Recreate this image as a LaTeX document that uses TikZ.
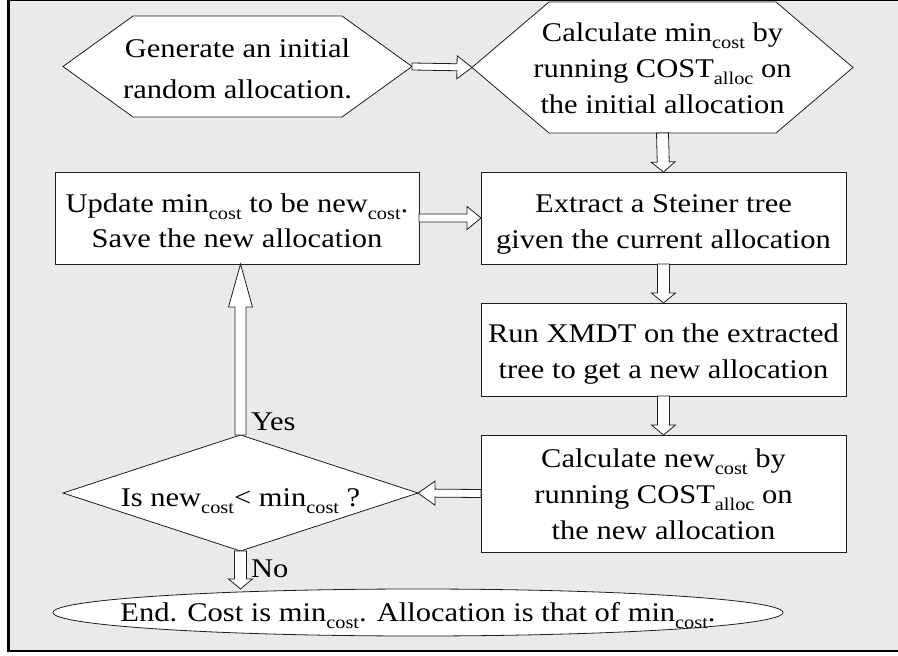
\documentclass[tikz,border=0pt]{standalone}
\usepackage{fontspec}
\setmainfont{Liberation Serif}[FakeStretch=1.13]
\usetikzlibrary{calc}

\definecolor{panel}{RGB}{234,234,234}
\definecolor{ink}{RGB}{30,30,30}

\pgfdeclarelayer{back}
\pgfdeclarelayer{shapes}
\pgfsetlayers{back,shapes,main}

% lowered, smaller index text
\newcommand\sub[1]{\raisebox{-7pt}{\fontsize{18}{18}\selectfont #1}}
% centred block of lines, moved down by #1 without changing its box
\newcommand\lines[2]{\raisebox{-#1}[\height][\depth]{\begin{tabular}{@{}c@{}}#2\end{tabular}}}

% hollow block arrow: from, to, shaft half-width, head half-width, head length
\newcommand\blockarrow[5]{%
  \coordinate (neck) at ($(#2)!#5!(#1)$);
  \filldraw[arrowline]
    ($(#1)!#3!90:(#2)$) -- ($(neck)!#3!-90:(#1)$) -- ($(neck)!#4!-90:(#1)$)
    -- (#2)
    -- ($(neck)!#4!90:(#1)$) -- ($(neck)!#3!90:(#1)$) -- ($(#1)!#3!-90:(#2)$) -- cycle;}

\tikzset{
  txt/.style={font=\fontsize{27}{36}\selectfont, inner sep=0pt, outer sep=0pt},
  area/.style 2 args={txt, minimum width=#1, minimum height=#2},
  stepbox/.style 2 args={area={#1}{#2}, draw=ink, fill=white, line width=0.8pt},
  outline/.style={draw=ink, fill=white, line width=0.8pt, line join=miter},
  arrowline/.style={draw=ink, fill=white, line width=0.8pt, line join=miter},
  tag/.style={font=\fontsize{27}{36}\selectfont, inner sep=0pt, anchor=base west},
}

\begin{document}
\begin{tikzpicture}[x=1pt, y=-1pt]
  \useasboundingbox (0,0) rectangle (898,656);

  % text-bearing nodes
  \node[area={349pt}{101pt}] (gen) at (237.5,66.5)
    {\lines{4pt}{Generate an initial\\[5pt]random allocation.}};
  \node[area={381pt}{131pt}] (cmin) at (662.5,67.5)
    {\lines{3pt}{Calculate min\sub{cost} by\\running COST\sub{alloc} on\\the initial allocation}};
  \node[stepbox={364pt}{92pt}] (upd) at (237,218)
    {\lines{5pt}{Update min\sub{cost} to be new\sub{cost}.\\[-1pt]Save the new allocation}};
  \node[stepbox={365pt}{92pt}] (ext) at (663.5,218)
    {\lines{5pt}{Extract a Steiner tree\\given the current allocation}};
  \node[stepbox={365pt}{93pt}] (run) at (663.5,349.5)
    {\lines{4pt}{Run XMDT on the extracted\\tree to get a new allocation}};
  \node[stepbox={365pt}{117pt}] (cnew) at (663.5,493.5)
    {\lines{3pt}{Calculate new\sub{cost} by\\running COST\sub{alloc} on\\the new allocation}};
  \node[area={355pt}{116pt}] (dec) at (240.5,493)
    {\lines{6pt}{Is new\sub{cost}< min\sub{cost} ?}};
  \node[area={730pt}{47pt}] (endn) at (418,612.5)
    {\lines{2pt}{End. Cost is min\sub{cost}. Allocation is that of min\sub{cost}.}};

  % outlines of the hexagons, the decision diamond and the terminal ellipse
  \begin{pgfonlayer}{shapes}
    \draw[outline] (gen.west) -- ([xshift=70pt]gen.north west) -- ([xshift=-70pt]gen.north east)
      -- (gen.east) -- ([xshift=-70pt]gen.south east) -- ([xshift=70pt]gen.south west) -- cycle;
    \draw[outline] (cmin.west) -- ([xshift=77pt]cmin.north west) -- ([xshift=-77pt]cmin.north east)
      -- (cmin.east) -- ([xshift=-77pt]cmin.south east) -- ([xshift=77pt]cmin.south west) -- cycle;
    \draw[outline] (dec.west) -- (dec.north) -- (dec.east) -- (dec.south) -- cycle;
    \draw[outline] (endn.center) ellipse [x radius=365, y radius=23.5];
  \end{pgfonlayer}

  % panel and frame
  \begin{pgfonlayer}{back}
    \fill[white] (0,0) rectangle (898,656);
    \draw[line width=2.5pt, fill=panel] (8.5,0) rectangle (930,651);
  \end{pgfonlayer}

  % flow arrows
  \blockarrow{gen.east}{cmin.west}{3.5pt}{11.5pt}{15pt}
  \blockarrow{cmin.south}{ext.north}{6pt}{12pt}{10pt}
  \blockarrow{ext.south}{run.north}{6pt}{12pt}{10pt}
  \blockarrow{run.south}{cnew.north}{6pt}{12pt}{10pt}
  \blockarrow{cnew.west}{dec.east}{4pt}{12pt}{17pt}
  \blockarrow{dec.north}{dec.north |- upd.south}{5.5pt}{12pt}{43pt}
  \blockarrow{upd.east}{ext.west}{4pt}{11.5pt}{14pt}
  \blockarrow{dec.south}{dec.south |- endn.north}{6pt}{12pt}{10pt}

  % branch labels
  \node[tag] (yes) at (251,430) {Yes};
  \node[tag] (no) at (251,577) {No};
\end{tikzpicture}
\end{document}
